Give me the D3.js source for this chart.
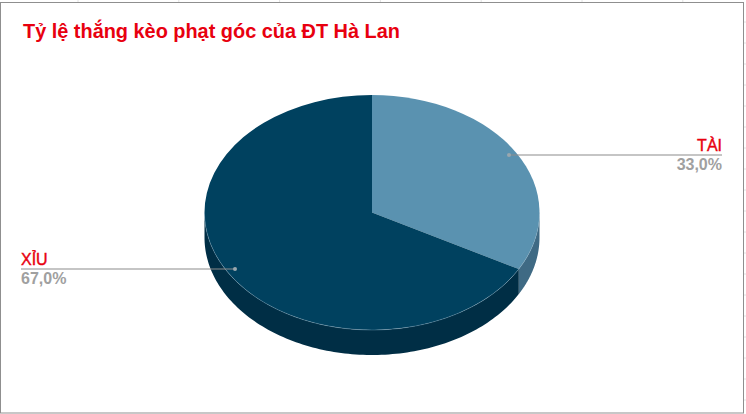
<!DOCTYPE html>
<html><head><meta charset="utf-8">
<script src="https://cdn.jsdelivr.net/npm/d3@7/dist/d3.min.js"></script>
<style>html,body{margin:0;padding:0;background:#fff}svg{display:block}text{font-family:"Liberation Sans",Arial,sans-serif}</style>
</head><body><svg id="c" width="746" height="414"></svg>
<script>
const title = "Tỷ lệ thắng kèo phạt góc của ĐT Hà Lan";
const categories = ["TÀI", "XỈU"];
const values = [33.0, 67.0];
const topColors = ["#5a92b0", "#00415f"];
const sideColors = ["#3f6a84", "#002e45"];

const W = 746, H = 414;
const cx = 372, cy = 212.5, rx = 167.5, ry = 117.5, depth = 25;
const svg = d3.select("#c");

const gridX = d3.range(78, W, 100.8), gridY = d3.range(22, H, 21);
svg.selectAll(".gx").data(gridX).join("line").attr("x1", d => d).attr("x2", d => d).attr("y1", 0).attr("y2", 2).attr("stroke", "#e2e2e2");
svg.selectAll(".gy").data(gridY).join("line").attr("x1", 744).attr("x2", W).attr("y1", d => d).attr("y2", d => d).attr("stroke", "#e2e2e2");
svg.append("rect").attr("x", 0.5).attr("y", 2.5).attr("width", 743).attr("height", 410.5).attr("fill", "#fff").attr("stroke", "#8f8f8f");

const pie = d3.pie().sort(null).value(d => d);
const arcs = pie(values);
const pt = (a, dy = 0) => [cx + rx * Math.sin(a), cy - ry * Math.cos(a) + dy];

const line = d3.line();
arcs.forEach((d, i) => {
  const a0 = Math.max(d.startAngle, Math.PI / 2), a1 = Math.min(d.endAngle, 3 * Math.PI / 2);
  if (a1 <= a0) return;
  const as = d3.range(0, 121).map(k => a0 + (a1 - a0) * k / 120);
  const pts = as.map(a => pt(a)).concat(as.slice().reverse().map(a => pt(a, depth)));
  svg.append("path").attr("d", line(pts) + "Z").attr("fill", sideColors[i]);
});

const arc = d3.arc().innerRadius(0).outerRadius(rx);
svg.append("g").attr("transform", `translate(${cx},${cy}) scale(1,${ry / rx})`)
  .selectAll("path").data(arcs).join("path").attr("d", arc).attr("fill", (d, i) => topColors[i]);
const rimA = d3.range(0, 121).map(k => Math.PI / 2 + Math.PI * k / 120);
svg.append("path").attr("d", line(rimA.map(a => pt(a)))).attr("fill", "none").attr("stroke", "#7fa6bc").attr("stroke-width", 0.5).attr("opacity", 0.7);

const labels = [
  {i: 0, x0: 509, y: 155, x1: 722, tx: 722, anchor: "end"},
  {i: 1, x0: 235, y: 269, x1: 21, tx: 21, anchor: "start"}
];
labels.forEach(l => {
  svg.append("line").attr("x1", l.x0).attr("x2", l.x1).attr("y1", l.y).attr("y2", l.y).attr("stroke", "#8c8c8c").attr("stroke-width", 1.2);
  svg.append("circle").attr("cx", l.x0).attr("cy", l.y).attr("r", 2).attr("fill", "#9aa7ae");
  svg.append("text").attr("x", l.tx).attr("y", l.y - 4).attr("text-anchor", l.anchor).attr("font-size", 16).attr("font-weight", 400).attr("fill", "#e8000f").attr("stroke", "#e8000f").attr("stroke-width", 0.4).text(categories[l.i]);
  svg.append("text").attr("x", l.tx).attr("y", l.y + 15).attr("text-anchor", l.anchor).attr("font-size", 16).attr("font-weight", 700).attr("fill", "#a0a0a0").text(values[l.i].toFixed(1).replace(".", ",") + "%");
});

svg.append("text").attr("x", 23).attr("y", 38).attr("font-size", 19.9).attr("font-weight", 700).attr("fill", "#e8000f").text(title);
</script></body></html>
